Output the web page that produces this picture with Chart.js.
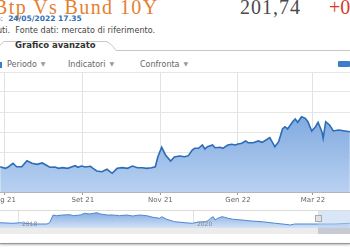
<!DOCTYPE html>
<html>
<head>
<meta charset="utf-8">
<script src="https://cdn.jsdelivr.net/npm/chart.js@4.4.1/dist/chart.umd.min.js"></script>
<style>
  html, body { margin: 0; padding: 0; background: #fff; width: 350px; height: 250px; overflow: hidden; }
  body { font-family: "DejaVu Sans", Verdana, sans-serif; }
  #wrap { position: relative; width: 350px; height: 250px; }
  .abs { position: absolute; white-space: nowrap; }
  #title { left: -6px; top: -4px; font: 20px "Liberation Serif", serif; color: #e57f32; letter-spacing: 1.4px; }
  #price { left: 240px; top: -4px; font: 20px "Liberation Serif", serif; color: #4a4a4a; letter-spacing: 1px; }
  #chg { left: 329px; top: -4px; font: 20px "Liberation Serif", serif; color: #d63a2f; }
  #upd { left: -4px; top: 14px; font-size: 7.5px; color: #555; }
  #upd b { color: #2f6fb8; margin-left: 5px; }
  #src { left: -3px; top: 26px; font-size: 8px; color: #444; letter-spacing: 0.05px; }
  #tabtxt { left: 15px; top: 40px; font-size: 8.5px; font-weight: bold; color: #333; }
  .tool { top: 60px; font-size: 8px; color: #666; }
  .tool span { color: #999; font-size: 6px; margin-left: 4px; vertical-align: 1px; }
  #cal { left: -2px; top: 62px; width: 4px; height: 6px; background: #3d7cc9; }
  #save { left: 338px; top: 61px; width: 12px; height: 6px; background: #3d7cc9; border-radius: 1px; }
  #mainChart { position: absolute; left: 0; top: 70px; }
  #navChart { position: absolute; left: 0; top: 211px; }
  #navTop { left: 0; top: 210px; width: 350px; height: 1px; background: #dcdcdc; }
  #navBand { left: 0; top: 228px; width: 350px; height: 6px; background: #ececec; }
  #navSel { left: 318px; top: 211px; width: 32px; height: 17px; background: rgba(185, 210, 240, 0.55); }
  #navSelBand { left: 318px; top: 228px; width: 32px; height: 6px; background: #c6cbd3; }
  #handle { left: 315px; top: 215px; width: 5px; height: 5px; border: 1px solid #aaa; background: #e2e2e2; }
  #shadow { left: 0; top: 243px; width: 350px; height: 1px; background: #9a9a9a; box-shadow: 0 1px 2px #999; }
</style>
</head>
<body>
<div id="wrap">
  <div id="title" class="abs">Btp Vs Bund 10Y</div>
  <div id="price" class="abs">201,74</div>
  <div id="chg" class="abs">+0</div>
  <div id="upd" class="abs">o:<b>24/05/2022 17.35</b></div>
  <div id="src" class="abs">uti.&nbsp; Fonte dati: mercato di riferimento.</div>

  <svg class="abs" style="left:0;top:0" width="350" height="60">
    <path d="M-6 50.5 L4 41.5 L106 41.5 Q110 42 116 50.5 L350 50.5" fill="none" stroke="#c8c8c8" stroke-width="1"/>
  </svg>
  <div id="tabtxt" class="abs">Grafico avanzato</div>

  <div id="cal" class="abs"></div>
  <div class="abs tool" style="left:7px">Periodo<span>▼</span></div>
  <div class="abs tool" style="left:68px">Indicatori<span>▼</span></div>
  <div class="abs tool" style="left:140px">Confronta<span>▼</span></div>
  <div id="save" class="abs"></div>

  <canvas id="mainChart" width="350" height="136"></canvas>

  <div id="navTop" class="abs"></div>
  <div id="navBand" class="abs"></div>
  <canvas id="navChart" width="350" height="17"></canvas>
  <div id="navSel" class="abs"></div>
  <div id="navSelBand" class="abs"></div>
  <div id="handle" class="abs"></div>
  <div id="shadow" class="abs"></div>
</div>

<script>
// days since 1 Jul 2021
const days = [-3, 1, 3, 7, 10, 14, 18, 22, 26, 30, 34, 36, 40, 43, 46, 50, 53, 56, 58, 61,
  64, 68, 70, 73, 77, 81, 85, 89, 93, 97, 99, 101, 105, 109, 112, 116, 119, 121, 124, 127,
  131, 134, 138, 142, 145, 148, 150, 153, 156, 158, 160, 164, 166, 170, 172, 176, 179, 182, 184, 187,
  190, 192, 196, 200, 203, 207, 209, 212, 213, 216, 219, 221, 223, 227, 229, 231, 234, 237, 239, 242,
  245, 247, 250, 251, 253, 256, 259, 263, 267, 272]
const spread = [106.6, 104.6, 105.9, 110.9, 106.6, 106.6, 114.1, 110.9, 109.6, 111.3, 107.9, 105.9, 106.3, 104.6, 105.4, 104.6, 106.3, 107.9, 105.9, 107.5,
  106.3, 107.1, 104.6, 101.3, 100.4, 103.4, 98.4, 104.6, 105.4, 104.6, 105.9, 107.5, 105.4, 105.4, 104.6, 105.4, 106.6, 119.1, 130.9, 121.3,
  113.8, 118.8, 120, 119.1, 120.4, 127.5, 129.6, 129.6, 133.8, 128.8, 131.6, 133.8, 130.4, 130.9, 129.6, 133.8, 134.6, 133.8, 135, 135.9,
  138.8, 136.6, 136.6, 138.8, 137.1, 140.9, 142.9, 134.6, 131.6, 137.9, 153.8, 156.6, 153.8, 162.9, 166.3, 162.1, 169.1, 167.1, 162.9, 151.3,
  156.6, 162.1, 150.4, 142.1, 162.9, 158.8, 151.3, 152.5, 151.6, 150.4]

const tickDays = [0, 62, 123, 184, 243]
const tickLabels = ['Lug 21', 'Set 21', 'Nov 21', 'Gen 22', 'Mar 22']

// navigator (whole history)
const navYears = [2017.78, 2017.93, 2018.01, 2018.16, 2018.32, 2018.35, 2018.39, 2018.43, 2018.50, 2018.58,
  2018.62, 2018.70, 2018.75, 2018.81, 2018.89, 2018.93, 2019.01, 2019.07, 2019.15, 2019.23,
  2019.30, 2019.38, 2019.46, 2019.53, 2019.61, 2019.63, 2019.69, 2019.78, 2019.90, 2019.98,
  2020.05, 2020.13, 2020.16, 2020.19, 2020.22, 2020.24, 2020.27, 2020.32, 2020.35, 2020.39,
  2020.45, 2020.55, 2020.66, 2020.78, 2020.93, 2021.04, 2021.10, 2021.15, 2021.30, 2021.42,
  2021.61, 2021.78]
const navSpread = [130, 120, 130, 108, 108, 130, 262, 250, 262, 267,
  250, 262, 291, 279, 301, 279, 262, 262, 250, 262,
  245, 262, 250, 223, 205, 233, 188, 147, 130, 120,
  142, 147, 165, 205, 233, 176, 205, 233, 223, 205,
  188, 176, 159, 147, 120, 103, 91, 108, 108, 108,
  108, 120]
const navTickYears = [2018, 2020]

function areaGradient(ctx, area, top, bottom) {
  const g = ctx.createLinearGradient(0, area.top, 0, area.bottom)
  g.addColorStop(0, top)
  g.addColorStop(1, bottom)
  return g
}

function initMainChart() {
  const ctx = document.getElementById('mainChart').getContext('2d')
  new Chart(ctx, {
    type: 'line',
    data: {
      datasets: [{
        data: days.map((d, i) => ({ x: d, y: spread[i] })),
        borderColor: '#2d6cb6',
        borderWidth: 1.6,
        pointRadius: 0,
        tension: 0,
        fill: 'start',
        backgroundColor: (c) => c.chart.chartArea
          ? areaGradient(c.chart.ctx, c.chart.chartArea, '#5f93d6', '#b9d1f1')
          : '#8fb3e6',
      }],
    },
    options: {
      responsive: false,
      animation: false,
      devicePixelRatio: 1,
      layout: { padding: { top: 2, left: 0, right: 0, bottom: 0 } },
      plugins: { legend: { display: false }, tooltip: { enabled: false } },
      scales: {
        x: {
          type: 'linear',
          min: -3.15,
          max: 272.1,
          afterBuildTicks: (s) => { s.ticks = tickDays.map((v) => ({ value: v })) },
          afterFit: (s) => { s.height = 14; s.paddingLeft = 0; s.paddingRight = 0 },
          grid: { color: '#e2e2e2', tickLength: 3, tickColor: '#999' },
          border: { color: '#b5b5b5' },
          ticks: {
            autoSkip: false,
            maxRotation: 0,
            padding: 1,
            color: '#666',
            font: { family: 'DejaVu Sans', size: 7 },
            callback: (v) => tickLabels[tickDays.indexOf(v)],
          },
        },
        y: {
          min: 75,
          max: 225,
          afterFit: (s) => { s.width = 0 },
          grid: { color: '#e6e6e6', drawTicks: false },
          border: { display: false },
          ticks: { stepSize: 25, display: false },
        },
      },
    },
  })
}

const navLabels = {
  id: 'navLabels',
  afterDatasetsDraw(chart) {
    const { ctx, scales } = chart
    ctx.save()
    ctx.font = '6px "DejaVu Sans"'
    ctx.fillStyle = '#8a8a8a'
    ctx.textBaseline = 'middle'
    navTickYears.forEach((yr) => {
      ctx.fillText(String(yr), scales.x.getPixelForValue(yr) + 3, 13)
    })
    ctx.restore()
  },
}

function initNavChart() {
  const ctx = document.getElementById('navChart').getContext('2d')
  new Chart(ctx, {
    type: 'line',
    data: {
      datasets: [{
        data: navYears.map((yr, i) => ({ x: yr, y: navSpread[i] })),
        borderColor: '#4f86cf',
        borderWidth: 1,
        pointRadius: 0,
        tension: 0,
        fill: 'start',
        backgroundColor: (c) => c.chart.chartArea
          ? areaGradient(c.chart.ctx, c.chart.chartArea, '#7ea8e0', '#d3e2f6')
          : '#a9c5ec',
      }],
    },
    options: {
      responsive: false,
      animation: false,
      devicePixelRatio: 1,
      layout: { padding: 0 },
      plugins: { legend: { display: false }, tooltip: { enabled: false } },
      scales: {
        x: {
          type: 'linear',
          min: 2017.783,
          max: 2021.783,
          afterBuildTicks: (s) => { s.ticks = navTickYears.map((v) => ({ value: v })) },
          afterFit: (s) => { s.height = 0; s.paddingLeft = 0; s.paddingRight = 0 },
          grid: { color: '#e0e0e0', drawTicks: false },
          border: { display: false },
          ticks: { display: false },
        },
        y: {
          min: 40,
          max: 330,
          display: false,
        },
      },
    },
    plugins: [navLabels],
  })
}

initMainChart()
initNavChart()
</script>
</body>
</html>
